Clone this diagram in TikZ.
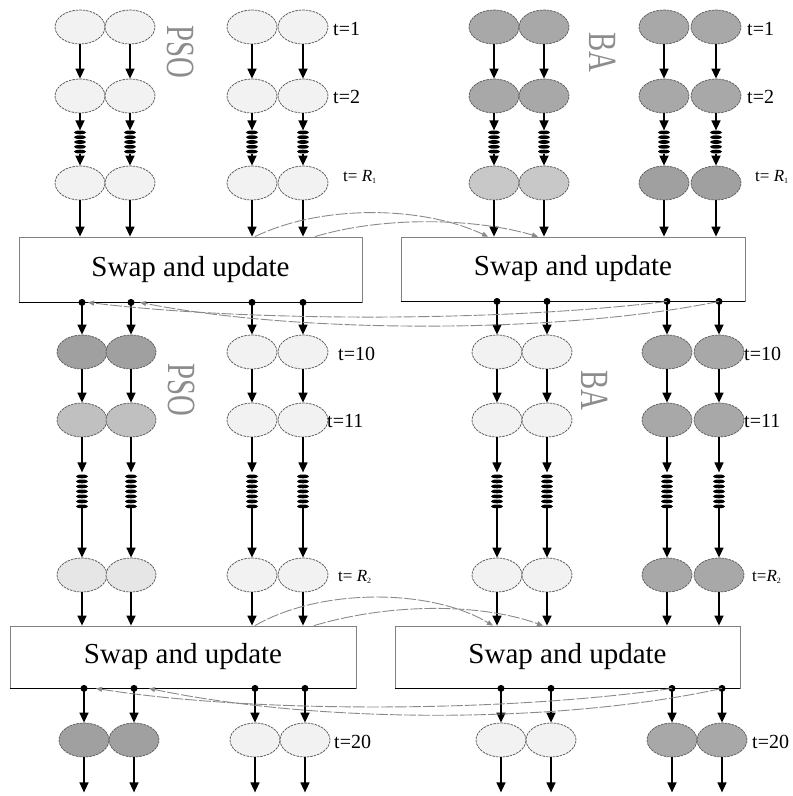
\documentclass[tikz,border=0pt]{standalone}
\usepackage{fontspec}
\setmainfont{Liberation Serif}
\usetikzlibrary{shapes.geometric,arrows.meta,calc}
\definecolor{lt}{HTML}{F2F2F2}
\definecolor{lttwo}{HTML}{E6E6E6}
\definecolor{md}{HTML}{C8C8C8}
\definecolor{mdtwo}{HTML}{C0C0C0}
\definecolor{dk}{HTML}{A8A8A8}
\definecolor{dktwo}{HTML}{A0A0A0}
\definecolor{edge}{HTML}{606060}
\definecolor{lbl}{HTML}{8C8C8C}
\definecolor{linkc}{HTML}{8A8A8A}
\begin{document}
\begin{tikzpicture}[x=1pt,y=-1pt,
  cell/.style={ellipse, draw=edge, line width=0.8pt, dash pattern=on 2.5pt off 1pt,
    minimum width=50pt, minimum height=34pt, inner sep=0pt},
  arr/.style={-{Triangle[width=9pt,length=10pt]}, line width=1.5pt, black},
  box/.style={draw=gray, line width=0.8pt, minimum width=#1, minimum height=64pt,
    font=\fontsize{29}{34}\selectfont, inner sep=0pt},
  bottomedge/.style={line width=1.5pt, black},
  linkarr/.style={-{Triangle[width=5pt,length=6pt]}, draw=linkc, line width=0.9pt,
    dash pattern=on 12pt off 2pt},
  tl/.style={font=\fontsize{20}{24}\selectfont, inner sep=0pt, anchor=west},
  tr/.style={font=\fontsize{17}{20}\selectfont, inner sep=0pt, anchor=west},
  algo/.style={font=\fontsize{40}{44}\selectfont, text=lbl, inner sep=0pt, rotate=-90},
  bar/.style={fill=black},
  dot/.style={fill=black}
]
\useasboundingbox (0,0) rectangle (793,796);

% ---- rows of cells ----
\foreach \x/\c [count=\i] in {80/lt,130/lt,252/lt,303/lt,494/dk,544/dk,664/dk,716/dk}
  \node[cell, fill=\c] (r1\i) at (\x,27) {};
\foreach \x/\c [count=\i] in {80/lt,130/lt,252/lt,303/lt,494/dk,544/dk,664/dk,716/dk}
  \node[cell, fill=\c] (r2\i) at (\x,96) {};
\foreach \x/\c [count=\i] in {80/lt,130/lt,252/lt,303/lt,494/md,544/md,664/dktwo,716/dktwo}
  \node[cell, fill=\c] (r3\i) at (\x,183) {};
\foreach \x/\c [count=\i] in {82/dktwo,131/dktwo,252/lt,303/lt,497/lt,547/lt,667/dk,719/dk}
  \node[cell, fill=\c] (r4\i) at (\x,352) {};
\foreach \x/\c [count=\i] in {82/mdtwo,131/mdtwo,252/lt,303/lt,497/lt,547/lt,667/dk,719/dk}
  \node[cell, fill=\c] (r5\i) at (\x,420) {};
\foreach \x/\c [count=\i] in {82/lttwo,131/lttwo,252/lt,303/lt,497/lt,547/lt,667/dk,719/dk}
  \node[cell, fill=\c] (r6\i) at (\x,575) {};
\foreach \x/\c [count=\i] in {84/dktwo,134/dktwo,255/lt,305/lt,501/lt,551/lt,672/dk,722/dk}
  \node[cell, fill=\c] (r7\i) at (\x,740) {};

% ---- boxes ----
\node[box=343pt, minimum height=65pt] (b1l) at (190.5,269.5) {Swap and update};
\node[box=344pt] (b1r) at (573,269) {Swap and update};
\node[box=346pt, minimum height=62pt] (b2l) at (183,657) {Swap and update};
\node[box=345pt, minimum height=62pt] (b2r) at (567.5,657) {Swap and update};
\foreach \b in {b1l,b1r,b2l,b2r}
  \draw[bottomedge] (\b.south west) -- (\b.south east);

% ---- labels ----
\node[algo] (pso1) at (181,52) {\scalebox{0.72}[1]{PSO}};
\node[algo] (pso2) at (182,390) {\scalebox{0.72}[1]{PSO}};
\node[algo] (ba1) at (603,52) {\scalebox{0.72}[1]{BA}};
\node[algo] (ba2) at (595,390) {\scalebox{0.72}[1]{BA}};

\node[tl] (t1a) at (333,29) {t=1};
\node[tl] (t1b) at (747,29) {t=1};
\node[tl] (t2a) at (333,97) {t=2};
\node[tl] (t2b) at (747,97) {t=2};
\node[tr] (tra) at (343,177) {t= \textit{R}\raisebox{-2pt}{\fontsize{8}{9}\selectfont 1}};
\node[tr] (trb) at (755,177) {t= \textit{R}\raisebox{-2pt}{\fontsize{8}{9}\selectfont 1}};
\node[tl] (t10a) at (338,354) {t=10};
\node[tl] (t10b) at (744,354) {t=10};
\node[tl] (t11a) at (327,421) {t=11};
\node[tl] (t11b) at (744,421) {t=11};
\node[tr] (trc) at (338,577) {t= \textit{R}\raisebox{-2pt}{\fontsize{8}{9}\selectfont 2}};
\node[tr] (trd) at (752,577) {t=\textit{R}\raisebox{-2pt}{\fontsize{8}{9}\selectfont 2}};
\node[tl] (t20a) at (334,742) {t=20};
\node[tl] (t20b) at (752,742) {t=20};

% ---- section 1 connectors ----
\foreach \i in {1,...,8} {
  \draw[arr] (r1\i.south) -- (r2\i.north);
  \draw[arr] (r2\i.south) -- ++(0,17) coordinate (ca\i);
  \foreach \k in {0,...,4}
    \fill[bar] ($(ca\i)+(0,2+\k*4.8)$) ellipse[x radius=6pt, y radius=1.9pt];
  \draw[arr] ($(ca\i)+(0,24)$) -- (r3\i.north);
}
\foreach \i in {1,...,4} {
  \draw[arr] (r3\i.south) -- (r3\i.south |- b1l.north);
  \fill[dot] (b1l.south -| r4\i) circle[radius=3.5pt];
  \draw[arr] (b1l.south -| r4\i) -- (r4\i.north);
}
\foreach \i in {5,...,8} {
  \draw[arr] (r3\i.south) -- (r3\i.south |- b1r.north);
  \fill[dot] (b1r.south -| r4\i) circle[radius=3.5pt];
  \draw[arr] (b1r.south -| r4\i) -- (r4\i.north);
}

% ---- section 2 connectors ----
\foreach \i in {1,...,8} {
  \draw[arr] (r4\i.south) -- (r5\i.north);
  \draw[arr] (r5\i.south) -- ++(0,35) coordinate (cb\i);
  \foreach \k in {0,...,6}
    \fill[bar] ($(cb\i)+(0,4+\k*5)$) ellipse[x radius=6pt, y radius=1.9pt];
  \draw[arr] ($(cb\i)+(0,36)$) -- (r6\i.north);
}
\foreach \i in {1,...,4} {
  \draw[arr] (r6\i.south) -- (r6\i.south |- b2l.north);
  \fill[dot] (b2l.south -| r7\i) circle[radius=3.5pt];
  \draw[arr] (b2l.south -| r7\i) -- (r7\i.north);
}
\foreach \i in {5,...,8} {
  \draw[arr] (r6\i.south) -- (r6\i.south |- b2r.north);
  \fill[dot] (b2r.south -| r7\i) circle[radius=3.5pt];
  \draw[arr] (b2r.south -| r7\i) -- (r7\i.north);
}
\foreach \i in {1,...,8}
  \draw[arr] (r7\i.south) -- ++(0,35) coordinate (end\i);

% ---- swap links ----
\draw[linkarr] ($(b1l.north -| r33)+(3,0)$) .. controls (320,205) and (420,205) .. ($(b1r.north -| r35)+(-6,0)$);
\draw[linkarr] ($(b1l.north -| r34)+(12,0)$) .. controls (380,217) and (470,217) .. ($(b1r.north -| r36)+(-6,0)$);
\draw[linkarr] (b1r.south -| r47) .. controls (500,322) and (250,322) .. ($(b1l.south -| r41)+(6,0)$);
\draw[linkarr] (b1r.south -| r48) .. controls (560,334) and (300,334) .. ($(b1l.south -| r42)+(9,0)$);

\draw[linkarr] ($(b2l.north -| r63)+(3,0)$) .. controls (320,588) and (430,588) .. ($(b2r.north -| r65)+(-4,0)$);
\draw[linkarr] ($(b2l.north -| r64)+(11,0)$) .. controls (390,603) and (480,603) .. ($(b2r.north -| r66)+(-4,0)$);
\draw[linkarr] (b2r.south -| r77) .. controls (500,713) and (250,713) .. ($(b2l.south -| r71)+(12,0)$);
\draw[linkarr] (b2r.south -| r78) .. controls (560,724) and (320,724) .. ($(b2l.south -| r72)+(15,0)$);
\end{tikzpicture}
\end{document}
